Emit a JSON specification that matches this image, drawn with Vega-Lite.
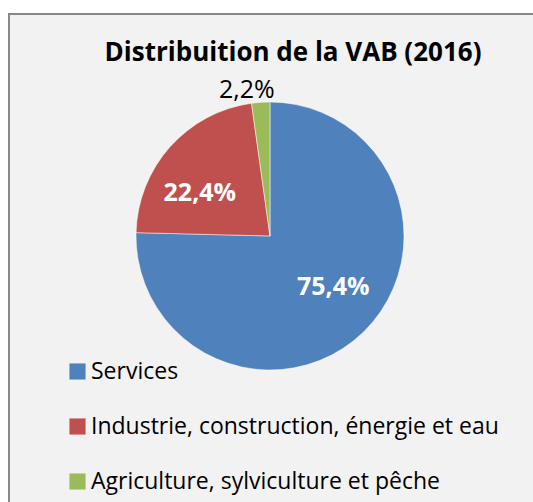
{
  "$schema": "https://vega.github.io/schema/vega-lite/v6.json",
  "width": 526,
  "height": 600,
  "autosize": {"type": "none"},
  "padding": {"left": 9, "top": 14, "right": 0, "bottom": 0},
  "background": "white",
  "view": {"fill": "#f2f2f2", "stroke": "#888888", "strokeWidth": 2},
  "config": {
    "font": "Open Sans"
  },
  "title": {
    "text": "Distribuition de la VAB (2016)",
    "font": "Open Sans",
    "fontSize": 26,
    "fontWeight": "bold",
    "color": "#000000",
    "anchor": "middle",
    "offset": -52,
    "dx": 21
  },
  "data": {
    "values": [
      {"sector": "Services", "value": 75.4, "label": "75,4%"},
      {"sector": "Industrie, construction, énergie et eau", "value": 22.4, "label": "22,4%"},
      {"sector": "Agriculture, sylviculture et pêche", "value": 2.2, "label": "2,2%"}
    ]
  },
  "encoding": {
    "theta": {"field": "value", "type": "quantitative", "stack": true},
    "order": {"field": "value", "sort": "descending"},
    "color": {
      "field": "sector",
      "type": "nominal",
      "sort": ["Services", "Industrie, construction, énergie et eau", "Agriculture, sylviculture et pêche"],
      "scale": {
        "domain": ["Services", "Industrie, construction, énergie et eau", "Agriculture, sylviculture et pêche"],
        "range": ["#4f81bd", "#c0504d", "#9bbb59"]
      },
      "legend": {
        "orient": "none",
        "legendX": 57,
        "legendY": 346,
        "title": null,
        "symbolType": "square",
        "symbolSize": 260,
        "symbolStrokeWidth": 0,
        "labelFontSize": 23,
        "labelFont": "Open Sans",
        "labelColor": "#000000",
        "labelLimit": 0,
        "rowPadding": 31,
        "labelOffset": 2,
        "padding": 0
      }
    }
  },
  "layer": [
    {
      "mark": {"type": "arc", "outerRadius": 134, "xOffset": -2, "yOffset": -78, "stroke": "#ffffff", "strokeWidth": 0.5}
    },
    {
      "mark": {"type": "text", "radius": 82, "xOffset": -2, "yOffset": -78, "dx": 6, "dy": -8, "font": "Open Sans", "fontSize": 25, "fontWeight": "bold"},
      "encoding": {
        "text": {"condition": {"test": "datum.sector === 'Services'", "field": "label"}, "value": ""},
        "color": {"value": "#ffffff"}
      }
    },
    {
      "mark": {"type": "text", "radius": 82, "xOffset": -2, "yOffset": -78, "dx": -9, "dy": 12, "font": "Open Sans", "fontSize": 25, "fontWeight": "bold"},
      "encoding": {
        "text": {"condition": {"test": "datum.sector === 'Industrie, construction, énergie et eau'", "field": "label"}, "value": ""},
        "color": {"value": "#ffffff"}
      }
    },
    {
      "mark": {"type": "text", "radius": 148, "xOffset": -2, "yOffset": -78, "dx": -13, "dy": 2, "font": "Open Sans", "fontSize": 25},
      "encoding": {
        "text": {"condition": {"test": "datum.sector === 'Agriculture, sylviculture et pêche'", "field": "label"}, "value": ""},
        "color": {"value": "#000000"}
      }
    }
  ]
}
